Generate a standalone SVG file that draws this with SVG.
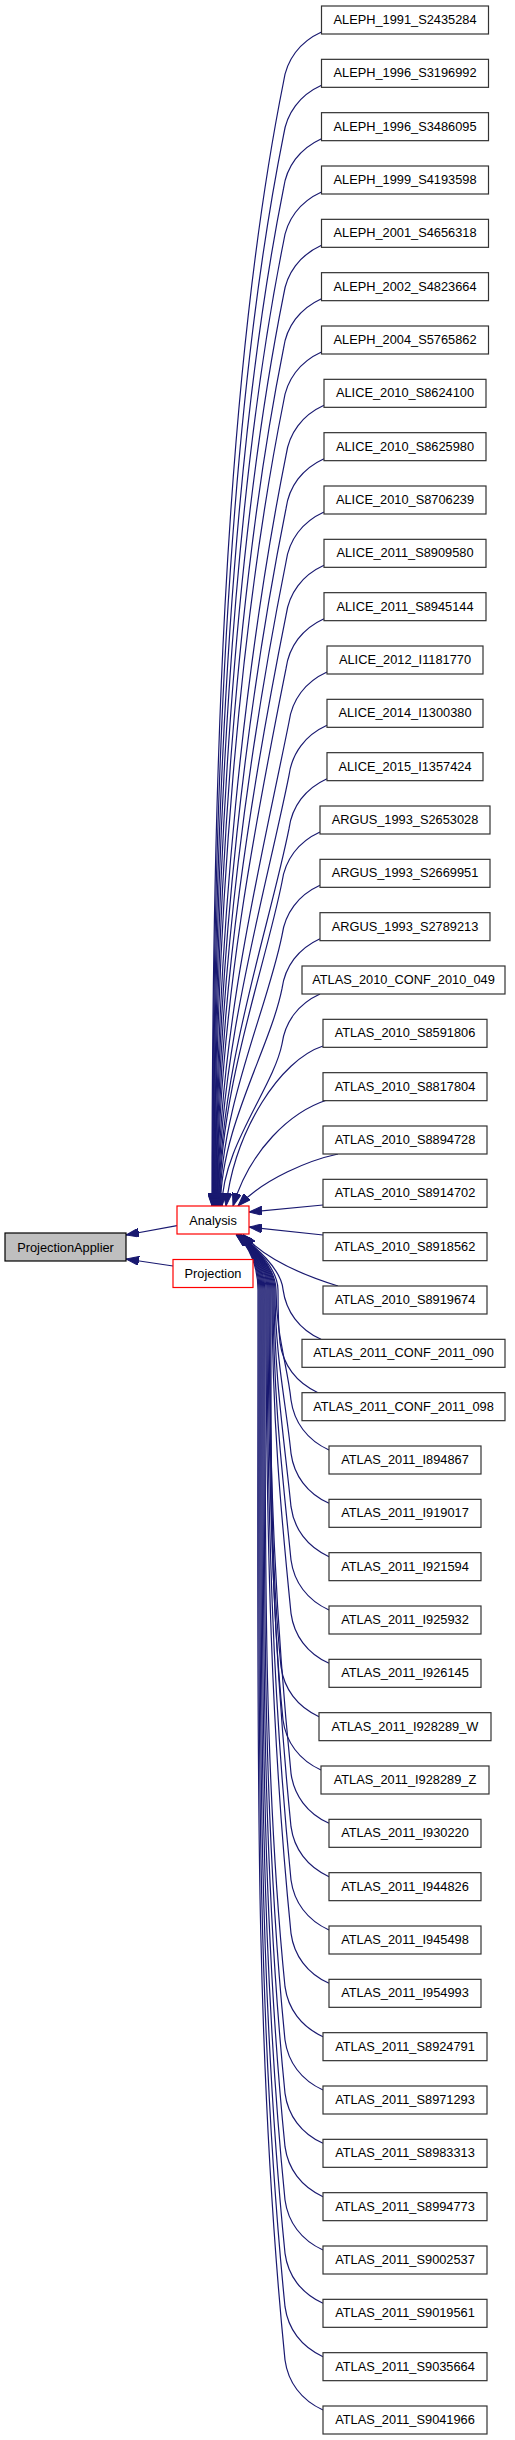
<svg xmlns="http://www.w3.org/2000/svg" width="515" height="2440" viewBox="0 0 515 2440">
<style>
.node rect{fill:#ffffff;stroke:#333333;stroke-width:1.2}
.hl rect{fill:#ffffff;stroke:#ff0000;stroke-width:1.2}
.root rect{fill:#bfbfbf;stroke:#000000;stroke-width:1.2}
text{font-family:"Liberation Sans",Arial,Helvetica,sans-serif;font-size:12.8px;fill:#000000;text-anchor:middle}
.e{fill:none;stroke:#191970;stroke-width:1.2;marker-end:url(#ah)}
</style>
<defs>
<marker id="ah" markerUnits="userSpaceOnUse" markerWidth="13" markerHeight="9" viewBox="0 0 13 9" refX="13" refY="4.5" orient="auto"><path d="M0,0 L13,4.5 L0,9 Z" fill="#191970" stroke="#191970" stroke-width="1"/></marker>
</defs>
<rect width="515" height="2440" fill="#ffffff"/>
<g id="edges">
<path class="e" d="M321.5,32 C299.5,42 286.5,60 283.5,82 C222.8,385.5 212,801.4 212,1206"/>
<path class="e" d="M321.5,85.3 C299.5,95.3 286.5,113.3 283.5,135.3 C225.7,424.4 212.5,820.6 212.5,1206"/>
<path class="e" d="M321.5,138.7 C299.5,148.7 286.5,166.7 283.5,188.7 C228.6,463.4 213,839.8 213,1206"/>
<path class="e" d="M321.5,192 C299.5,202 286.5,220 283.5,242 C231.4,502.3 213.5,859 213.5,1206"/>
<path class="e" d="M321.5,245.3 C299.5,255.3 286.5,273.3 283.5,295.3 C234.3,541.2 214,878.1 214,1206"/>
<path class="e" d="M321.5,298.7 C299.5,308.7 286.5,326.7 283.5,348.7 C237.2,580.2 214.5,897.4 214.5,1206"/>
<path class="e" d="M321.5,352 C299.5,362 286.5,380 283.5,402 C240.1,619.1 215,916.6 215,1206"/>
<path class="e" d="M324,405.3 C302,415.3 289,433.3 286,455.3 C245.5,658 215.5,935.7 215.5,1206"/>
<path class="e" d="M324,458.7 C302,468.7 289,486.7 286,508.7 C248.3,697 216,955 216,1206"/>
<path class="e" d="M324,512 C302,522 289,540 286,562 C251.2,735.9 216.5,974.2 216.5,1206"/>
<path class="e" d="M324,565.3 C302,575.3 289,593.3 286,615.3 C254.1,774.8 217,993.3 217,1206"/>
<path class="e" d="M324,618.7 C302,628.7 289,646.7 286,668.7 C257,813.8 217.5,1012.6 217.5,1206"/>
<path class="e" d="M327,672 C305,682 292,700 289,722 C262.9,852.7 218,1031.8 218,1206"/>
<path class="e" d="M327,725.3 C305,735.3 292,753.3 289,775.3 C265.7,891.6 218.5,1051 218.5,1206"/>
<path class="e" d="M327,778.7 C305,788.7 292,806.7 289,828.7 C268.6,930.6 219,1070.2 219,1206"/>
<path class="e" d="M320,832 C298,842 285,860 282,882 C264.5,969.5 219.5,1089.4 219.5,1206"/>
<path class="e" d="M320,885.3 C298,895.3 285,913.3 282,935.3 C267.4,1008.4 220,1108.5 220,1206"/>
<path class="e" d="M320,938.7 C298,948.7 285,966.7 282,988.7 C270.3,1047.4 220.5,1127.8 220.5,1206"/>
<path class="e" d="M320,994 C298,1004 285,1022 282,1044 C273.3,1087.7 222,1147.7 222,1206"/>
<path class="e" d="M323,1046 C280,1060 235,1130 226,1206"/>
<path class="e" d="M327,1100 C290,1112 250,1150 233,1206"/>
<path class="e" d="M338,1154 C310,1160 265,1178 238,1206"/>
<path class="e" d="M323,1205 L249,1212"/>
<path class="e" d="M323,1235 L249,1227"/>
<path class="e" d="M338,1286 C312,1278 268,1262 243,1234.5"/>
<path class="e" d="M321,1339.3 C299,1329.3 286,1311.3 283,1289.3 C281,1268 254,1246 240,1234.5"/>
<path class="e" d="M318,1392.7 C296,1382.7 283,1364.7 280,1342.7 C278.4,1326.9 278,1311.1 278,1290 C278,1268 253.8,1246 239.8,1234.5"/>
<path class="e" d="M329,1450 C307,1440 294,1422 291,1400 C287.7,1367 276,1334 276,1290 C276,1268 253.6,1246 239.6,1234.5"/>
<path class="e" d="M329,1503.3 C307,1493.3 294,1475.3 291,1453.3 C286.1,1404.3 275,1355.3 275,1290 C275,1268 253.4,1246 239.4,1234.5"/>
<path class="e" d="M329,1556.7 C307,1546.7 294,1528.7 291,1506.7 C284.5,1441.7 274,1376.7 274,1290 C274,1268 253.2,1246 239.2,1234.5"/>
<path class="e" d="M329,1610 C307,1600 294,1582 291,1560 C282.9,1479 273,1398 273,1290 C273,1268 253,1246 239,1234.5"/>
<path class="e" d="M329,1663.3 C307,1653.3 294,1635.3 291,1613.3 C281.3,1516.3 272,1419.3 272,1290 C272,1268 252.8,1246 238.8,1234.5"/>
<path class="e" d="M319,1716.7 C297,1706.7 284,1688.7 281,1666.7 C269.7,1553.7 271,1440.7 271,1290 C271,1268 252.6,1246 238.6,1234.5"/>
<path class="e" d="M321,1770 C299,1760 286,1742 283,1720 C270.1,1591 270,1462 270,1290 C270,1268 252.4,1246 238.4,1234.5"/>
<path class="e" d="M329,1823.3 C307,1813.3 294,1795.3 291,1773.3 C276.5,1628.3 269,1483.3 269,1290 C269,1268 252.2,1246 238.2,1234.5"/>
<path class="e" d="M329,1876.7 C307,1866.7 294,1848.7 291,1826.7 C274.9,1665.7 268,1504.7 268,1290 C268,1268 252,1246 238,1234.5"/>
<path class="e" d="M329,1930 C307,1920 294,1902 291,1880 C273.3,1703 267,1526 267,1290 C267,1268 251.8,1246 237.8,1234.5"/>
<path class="e" d="M329,1983.3 C307,1973.3 294,1955.3 291,1933.3 C271.7,1740.3 266,1547.3 266,1290 C266,1268 251.6,1246 237.6,1234.5"/>
<path class="e" d="M323,2036.7 C301,2026.7 288,2008.7 285,1986.7 C264.1,1777.7 265,1568.7 265,1290 C265,1268 251.4,1246 237.4,1234.5"/>
<path class="e" d="M323,2090 C301,2080 288,2062 285,2040 C262.5,1815 264,1590 264,1290 C264,1268 251.2,1246 237.2,1234.5"/>
<path class="e" d="M323,2143.3 C301,2133.3 288,2115.3 285,2093.3 C260.9,1852.3 263,1611.3 263,1290 C263,1268 251,1246 237,1234.5"/>
<path class="e" d="M323,2196.7 C301,2186.7 288,2168.7 285,2146.7 C259.3,1889.7 262,1632.7 262,1290 C262,1268 250.8,1246 236.8,1234.5"/>
<path class="e" d="M323,2250 C301,2240 288,2222 285,2200 C257.7,1927 261,1654 261,1290 C261,1268 250.6,1246 236.6,1234.5"/>
<path class="e" d="M323,2303.3 C301,2293.3 288,2275.3 285,2253.3 C256.1,1964.3 260,1675.3 260,1290 C260,1268 250.4,1246 236.4,1234.5"/>
<path class="e" d="M323,2356.7 C301,2346.7 288,2328.7 285,2306.7 C254.5,2001.7 259,1696.7 259,1290 C259,1268 250.2,1246 236.2,1234.5"/>
<path class="e" d="M323,2410 C301,2400 288,2382 285,2360 C252.9,2039 258,1718 258,1290 C258,1268 250,1246 236,1234.5"/>
<path class="e" d="M177,1225.7 L126,1235"/>
<path class="e" d="M173,1266 L126,1259"/>
</g>
<g id="ProjectionApplier" class="root"><rect x="5" y="1233" width="121" height="28"/><text x="65.5" y="1251.5">ProjectionApplier</text></g>
<g id="Analysis" class="hl"><rect x="177" y="1206" width="72" height="28"/><text x="213" y="1224.5">Analysis</text></g>
<g id="Projection" class="hl"><rect x="173" y="1259.5" width="80" height="28"/><text x="213" y="1278">Projection</text></g>
<g id="n0" class="node"><rect x="321.5" y="6" width="167" height="28"/><text x="405" y="24">ALEPH_1991_S2435284</text></g>
<g id="n1" class="node"><rect x="321.5" y="59.33" width="167" height="28"/><text x="405" y="77.33">ALEPH_1996_S3196992</text></g>
<g id="n2" class="node"><rect x="321.5" y="112.67" width="167" height="28"/><text x="405" y="130.67">ALEPH_1996_S3486095</text></g>
<g id="n3" class="node"><rect x="321.5" y="166" width="167" height="28"/><text x="405" y="184">ALEPH_1999_S4193598</text></g>
<g id="n4" class="node"><rect x="321.5" y="219.33" width="167" height="28"/><text x="405" y="237.33">ALEPH_2001_S4656318</text></g>
<g id="n5" class="node"><rect x="321.5" y="272.67" width="167" height="28"/><text x="405" y="290.67">ALEPH_2002_S4823664</text></g>
<g id="n6" class="node"><rect x="321.5" y="326" width="167" height="28"/><text x="405" y="344">ALEPH_2004_S5765862</text></g>
<g id="n7" class="node"><rect x="324" y="379.33" width="162" height="28"/><text x="405" y="397.33">ALICE_2010_S8624100</text></g>
<g id="n8" class="node"><rect x="324" y="432.67" width="162" height="28"/><text x="405" y="450.67">ALICE_2010_S8625980</text></g>
<g id="n9" class="node"><rect x="324" y="486" width="162" height="28"/><text x="405" y="504">ALICE_2010_S8706239</text></g>
<g id="n10" class="node"><rect x="324" y="539.33" width="162" height="28"/><text x="405" y="557.33">ALICE_2011_S8909580</text></g>
<g id="n11" class="node"><rect x="324" y="592.67" width="162" height="28"/><text x="405" y="610.67">ALICE_2011_S8945144</text></g>
<g id="n12" class="node"><rect x="327" y="646" width="156" height="28"/><text x="405" y="664">ALICE_2012_I1181770</text></g>
<g id="n13" class="node"><rect x="327" y="699.33" width="156" height="28"/><text x="405" y="717.33">ALICE_2014_I1300380</text></g>
<g id="n14" class="node"><rect x="327" y="752.67" width="156" height="28"/><text x="405" y="770.67">ALICE_2015_I1357424</text></g>
<g id="n15" class="node"><rect x="320" y="806" width="170" height="28"/><text x="405" y="824">ARGUS_1993_S2653028</text></g>
<g id="n16" class="node"><rect x="320" y="859.33" width="170" height="28"/><text x="405" y="877.33">ARGUS_1993_S2669951</text></g>
<g id="n17" class="node"><rect x="320" y="912.67" width="170" height="28"/><text x="405" y="930.67">ARGUS_1993_S2789213</text></g>
<g id="n18" class="node"><rect x="302" y="966" width="203" height="28"/><text x="403.5" y="984">ATLAS_2010_CONF_2010_049</text></g>
<g id="n19" class="node"><rect x="323" y="1019.33" width="164" height="28"/><text x="405" y="1037.33">ATLAS_2010_S8591806</text></g>
<g id="n20" class="node"><rect x="323" y="1072.67" width="164" height="28"/><text x="405" y="1090.67">ATLAS_2010_S8817804</text></g>
<g id="n21" class="node"><rect x="323" y="1126" width="164" height="28"/><text x="405" y="1144">ATLAS_2010_S8894728</text></g>
<g id="n22" class="node"><rect x="323" y="1179.33" width="164" height="28"/><text x="405" y="1197.33">ATLAS_2010_S8914702</text></g>
<g id="n23" class="node"><rect x="323" y="1232.67" width="164" height="28"/><text x="405" y="1250.67">ATLAS_2010_S8918562</text></g>
<g id="n24" class="node"><rect x="323" y="1286" width="164" height="28"/><text x="405" y="1304">ATLAS_2010_S8919674</text></g>
<g id="n25" class="node"><rect x="302" y="1339.33" width="203" height="28"/><text x="403.5" y="1357.33">ATLAS_2011_CONF_2011_090</text></g>
<g id="n26" class="node"><rect x="302" y="1392.67" width="203" height="28"/><text x="403.5" y="1410.67">ATLAS_2011_CONF_2011_098</text></g>
<g id="n27" class="node"><rect x="329" y="1446" width="152" height="28"/><text x="405" y="1464">ATLAS_2011_I894867</text></g>
<g id="n28" class="node"><rect x="329" y="1499.33" width="152" height="28"/><text x="405" y="1517.33">ATLAS_2011_I919017</text></g>
<g id="n29" class="node"><rect x="329" y="1552.67" width="152" height="28"/><text x="405" y="1570.67">ATLAS_2011_I921594</text></g>
<g id="n30" class="node"><rect x="329" y="1606" width="152" height="28"/><text x="405" y="1624">ATLAS_2011_I925932</text></g>
<g id="n31" class="node"><rect x="329" y="1659.33" width="152" height="28"/><text x="405" y="1677.33">ATLAS_2011_I926145</text></g>
<g id="n32" class="node"><rect x="319" y="1712.67" width="172" height="28"/><text x="405" y="1730.67">ATLAS_2011_I928289_W</text></g>
<g id="n33" class="node"><rect x="321" y="1766" width="168" height="28"/><text x="405" y="1784">ATLAS_2011_I928289_Z</text></g>
<g id="n34" class="node"><rect x="329" y="1819.33" width="152" height="28"/><text x="405" y="1837.33">ATLAS_2011_I930220</text></g>
<g id="n35" class="node"><rect x="329" y="1872.67" width="152" height="28"/><text x="405" y="1890.67">ATLAS_2011_I944826</text></g>
<g id="n36" class="node"><rect x="329" y="1926" width="152" height="28"/><text x="405" y="1944">ATLAS_2011_I945498</text></g>
<g id="n37" class="node"><rect x="329" y="1979.33" width="152" height="28"/><text x="405" y="1997.33">ATLAS_2011_I954993</text></g>
<g id="n38" class="node"><rect x="323" y="2032.67" width="164" height="28"/><text x="405" y="2050.67">ATLAS_2011_S8924791</text></g>
<g id="n39" class="node"><rect x="323" y="2086" width="164" height="28"/><text x="405" y="2104">ATLAS_2011_S8971293</text></g>
<g id="n40" class="node"><rect x="323" y="2139.33" width="164" height="28"/><text x="405" y="2157.33">ATLAS_2011_S8983313</text></g>
<g id="n41" class="node"><rect x="323" y="2192.67" width="164" height="28"/><text x="405" y="2210.67">ATLAS_2011_S8994773</text></g>
<g id="n42" class="node"><rect x="323" y="2246" width="164" height="28"/><text x="405" y="2264">ATLAS_2011_S9002537</text></g>
<g id="n43" class="node"><rect x="323" y="2299.33" width="164" height="28"/><text x="405" y="2317.33">ATLAS_2011_S9019561</text></g>
<g id="n44" class="node"><rect x="323" y="2352.67" width="164" height="28"/><text x="405" y="2370.67">ATLAS_2011_S9035664</text></g>
<g id="n45" class="node"><rect x="323" y="2406" width="164" height="28"/><text x="405" y="2424">ATLAS_2011_S9041966</text></g>
</svg>
